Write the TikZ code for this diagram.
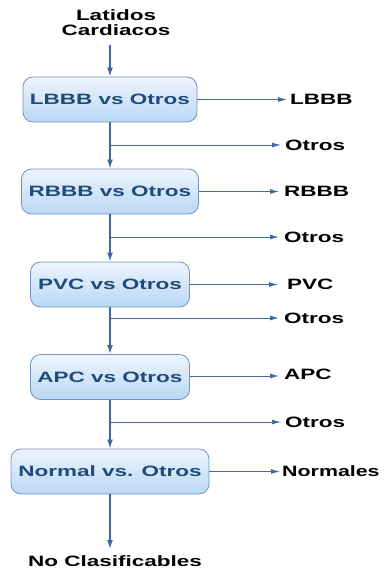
\documentclass[tikz,border=0pt]{standalone}
\usepackage{fontspec}
\setmainfont{Liberation Sans}[FakeStretch=1.5]
\usetikzlibrary{arrows.meta}
\definecolor{linec}{HTML}{41699A}
\definecolor{boxtop}{HTML}{EDF5FD}
\definecolor{boxbot}{HTML}{B9D7F4}
\definecolor{boxborder}{HTML}{7494BE}
\definecolor{boxtext}{HTML}{1F4A7A}
\tikzset{
  stagebox/.style={draw=boxborder, line width=0.8pt, rounded corners=10pt,
    top color=boxtop, bottom color=boxbot, minimum height=45pt,
    inner sep=0pt, font=\fontsize{15}{15}\selectfont\bfseries, text=boxtext},
  outlabel/.style={anchor=west, inner sep=0pt, font=\fontsize{15}{15}\selectfont\bfseries, text=black},
  arr/.style={draw=linec, line width=1pt, -{Latex[length=9pt,width=5pt]}},
  varr/.style={draw=linec, line width=1.5pt, -{Latex[length=9pt,width=6pt]}}
}
\begin{document}
\begin{tikzpicture}[x=1pt,y=-1pt]
\useasboundingbox (0,0) rectangle (383,570);
% title
\node[align=center, inner sep=0pt, font=\fontsize{15}{15}\selectfont\bfseries] (title) at (116,23) {Latidos\\Cardiacos};
\coordinate (t0) at (110,45);
% boxes
\node[stagebox, minimum width=174pt] (b1) at (110,99.5) {LBBB vs Otros};
\node[stagebox, minimum width=177pt] (b2) at (110,191.5) {RBBB vs Otros};
\node[stagebox, minimum width=159pt] (b3) at (110,284.5) {PVC vs Otros};
\node[stagebox, minimum width=159pt] (b4) at (110,377) {APC vs Otros};
\node[stagebox, minimum width=198pt] (b5) at (110,471.5) {Normal vs. Otros};
% class labels
\node[outlabel] (l1) at (290,99.5) {LBBB};
\node[outlabel] (l2) at (284,191.5) {RBBB};
\node[outlabel] (l3) at (287,284.5) {PVC};
\node[outlabel] (l4) at (284,374) {APC};
\node[outlabel] (l5) at (282,471.5) {\scalebox{0.95}[1]{Normales}};
% otros labels
\node[outlabel] (o1) at (285,145) {Otros};
\node[outlabel] (o2) at (284,237) {Otros};
\node[outlabel] (o3) at (284,318) {Otros};
\node[outlabel] (o4) at (285,422) {Otros};
% branch points
\coordinate (p1) at (110,145);
\coordinate (p2) at (110,237);
\coordinate (p3) at (110,318);
\coordinate (p4) at (110,422);
% bottom
\node[inner sep=0pt, font=\fontsize{15}{15}\selectfont\bfseries] (nc) at (115,561) {No Clasificables};
\coordinate (e5) at (110,549);
% connectors
\draw[varr] (t0) -- (b1.north);
\draw[varr] (b1.south) -- (b2.north);
\draw[varr] (b2.south) -- (b3.north);
\draw[varr] (b3.south) -- (b4.north);
\draw[varr] (b4.south) -- (b5.north);
\draw[varr] (b5.south) -- (e5);
\draw[arr] (b1.east) -- ([xshift=-3pt]l1.west |- b1.east);
\draw[arr] (b2.east) -- ([xshift=-5pt]l2.west);
\draw[arr] (b3.east) -- ([xshift=-9pt]l3.west);
\draw[arr] (b4.east |- 0,376) -- ([xshift=-5pt]l4.west |- 0,376);
\draw[arr] (b5.east) -- ([xshift=-2pt]l5.west);
\draw[arr] (p1) -- ([xshift=-4pt]o1.west);
\draw[arr] (p2) -- ([xshift=-5pt]o2.west);
\draw[arr] (p3) -- ([xshift=-5pt]o3.west);
\draw[arr] (p4) -- ([xshift=-4pt]o4.west);
\end{tikzpicture}
\end{document}
